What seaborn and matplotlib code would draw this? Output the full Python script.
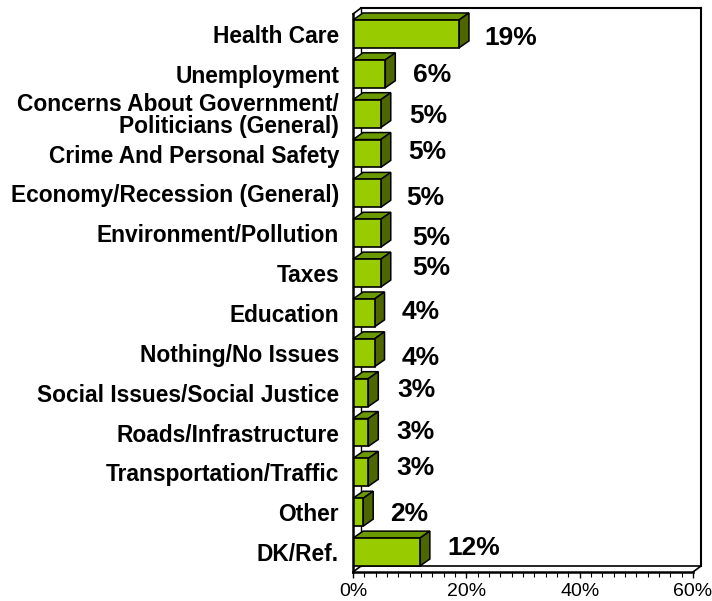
import matplotlib
matplotlib.use("Agg")
import matplotlib.pyplot as plt
from matplotlib.patches import Polygon
from matplotlib.lines import Line2D
from matplotlib.ticker import MultipleLocator, PercentFormatter
import pandas as pd
import seaborn as sns

categories = ["Health Care", "Unemployment", "Concerns About Government/\nPoliticians (General)",
              "Crime And Personal Safety", "Economy/Recession (General)", "Environment/Pollution",
              "Taxes", "Education", "Nothing/No Issues", "Social Issues/Social Justice",
              "Roads/Infrastructure", "Transportation/Traffic", "Other", "DK/Ref."]
shares = [18.7, 5.7, 4.9, 4.9, 4.9, 4.9, 4.9, 3.8, 3.8, 2.7, 2.7, 2.7, 1.8, 11.8]
shown = ["19%", "6%", "5%", "5%", "5%", "5%", "5%", "4%", "4%", "3%", "3%", "3%", "2%", "12%"]
label_dx = [52, 47, 48, 47, 45, 51, 51, 46, 46, 48, 47, 47, 46, 54]
label_dy = [-4, -1, -2, 1.5, -4.6, -5, 5, 1, -5, 2.6, 0.5, 4, -2, 4]

W, H = 712, 601
sns.set_theme(style="white")
plt.rcParams["font.family"] = ["Liberation Sans", "DejaVu Sans"]
fig = plt.figure(figsize=(W / 100, H / 100), dpi=100, facecolor="white")
ax = fig.add_axes([353 / W, (H - 572) / H, 340 / W, (572 - 14) / H])

df = pd.DataFrame({"issue": categories, "share": shares})
sns.barplot(data=df, y="issue", x="share", color="#99CC00", saturation=1, width=0.7,
            edgecolor="black", linewidth=1.2, ax=ax, zorder=5)
ax.set_xlim(0, 60)
ax.set_ylim(13.5, -0.5)
ax.set_xlabel("")
ax.set_ylabel("")
ax.xaxis.set_major_locator(MultipleLocator(20))
ax.xaxis.set_minor_locator(MultipleLocator(2))
ax.xaxis.set_major_formatter(PercentFormatter(decimals=0))
ax.tick_params(axis="x", which="major", length=4, width=1, color="black", bottom=True,
               labelsize=14, labelcolor="black", pad=4)
ax.tick_params(axis="x", which="minor", length=3.5, width=0.8, color="black", bottom=True)
ax.tick_params(axis="y", length=0, pad=10, labelsize=16.4, labelcolor="black")
for t in ax.get_yticklabels():
    t.set_fontweight("bold")
    t.set_linespacing(0.95)
for side in ("top", "right"):
    ax.spines[side].set_visible(False)
for side in ("left", "bottom"):
    ax.spines[side].set_color("black")
    ax.spines[side].set_linewidth(1.8)
    ax.spines[side].set_zorder(6)

fig.canvas.draw()
to_px = ax.transData.transform

# back wall and floor of the 3D frame (display coordinates)
wall_dx, wall_dy = 8, 6
x0, y_bottom = to_px((0, 13.5))
x1, y_top = to_px((60, -0.5))
kw = dict(transform=None, color="black", solid_capstyle="projecting")
def seg(xs, ys, lw=1.5, z=2):
    fig.add_artist(Line2D(xs, ys, lw=lw, zorder=z, **kw))
seg([x0 + wall_dx, x1 + wall_dx], [y_top + wall_dy] * 2)
seg([x1 + wall_dx, x1 + wall_dx], [y_top + wall_dy, y_bottom + wall_dy])
seg([x0 + wall_dx, x1 + wall_dx], [y_bottom + wall_dy] * 2, lw=1.2)
seg([x0, x0 + wall_dx], [y_top, y_top + wall_dy], lw=1.2)
seg([x0 + wall_dx, x0 + wall_dx], [y_bottom + wall_dy, y_top + wall_dy], lw=1.0)
seg([x1, x1 + wall_dx], [y_bottom, y_bottom + wall_dy], lw=1.2)
seg([x0, x0 + wall_dx], [y_bottom, y_bottom + wall_dy], lw=1.2)

# 3D faces of the bars, derived from the bars seaborn drew
ax.patch.set_visible(False)
depth_dx, depth_dy = 10, 7
for patch in ax.patches[:len(categories)]:
    (bx0, by0) = to_px((patch.get_x(), patch.get_y()))
    (bx1, by1) = to_px((patch.get_x() + patch.get_width(), patch.get_y() + patch.get_height()))
    ytop, ybot = max(by0, by1), min(by0, by1)
    fig.add_artist(Polygon([(bx0, ytop), (bx1, ytop), (bx1 + depth_dx, ytop + depth_dy),
                            (bx0 + depth_dx, ytop + depth_dy)], closed=True, transform=None,
                           facecolor="#6B9900", edgecolor="black", lw=1.1, zorder=3))
    fig.add_artist(Polygon([(bx1, ybot), (bx1 + depth_dx, ybot + depth_dy),
                            (bx1 + depth_dx, ytop + depth_dy), (bx1, ytop)], closed=True, transform=None,
                           facecolor="#4D6600", edgecolor="black", lw=1.1, zorder=3))
ax.set_zorder(4)

for i, (v, s, dx, dy) in enumerate(zip(shares, shown, label_dx, label_dy)):
    ax.annotate(s, xy=(v, i), xytext=(dx, dy), textcoords="offset pixels", ha="center", va="center",
                fontsize=19, fontweight="bold", color="black", annotation_clip=False, zorder=7)

fig.savefig("out.png", dpi=100, facecolor="white")
